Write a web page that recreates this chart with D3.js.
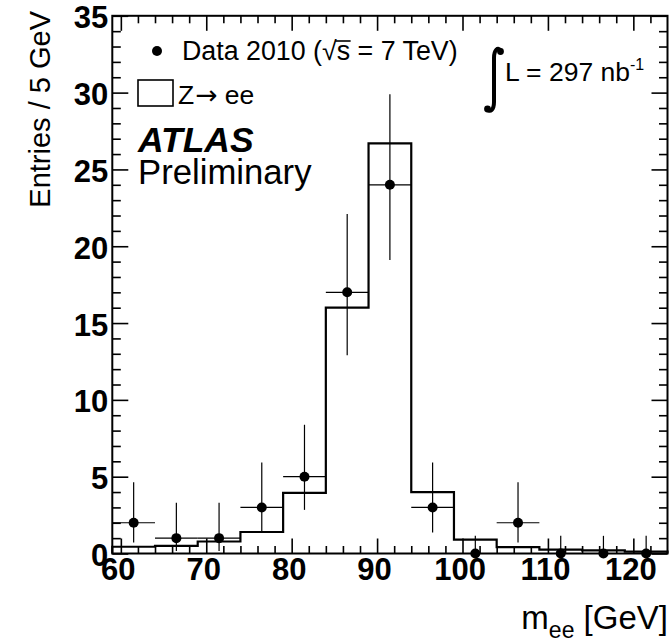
<!DOCTYPE html>
<html>
<head>
<meta charset="utf-8">
<script src="https://cdn.jsdelivr.net/npm/d3@7"></script>
<style>
  html, body { margin: 0; padding: 0; background: #fff; }
  svg { display: block; }
</style>
</head>
<body>
<svg id="chart" width="672" height="643"></svg>
<script>
// bin edges (GeV) shared by data and MC
const binEdges = [59, 64, 69, 74, 79, 84, 89, 94, 99, 104, 109, 114, 119, 124];
// Data 2010 counts per bin, with asymmetric (Poisson) errors
const dataCounts = [2, 1, 1, 3, 5, 17, 24, 3, 0, 2, 0, 0, 0];
const dataErrLow = [0.71, 0.17, 0.17, 1.37, 2.84, 12.9, 19.1, 1.37, 0, 0.71, 0, 0, 0];
const dataErrHigh = [4.64, 3.3, 3.3, 5.92, 8.38, 22.1, 29.9, 5.92, 1.15, 4.64, 1.15, 1.15, 1.15];
// Z -> ee expectation
const mcValues = [0.44, 0.5, 0.78, 1.4, 3.95, 16.0, 26.7, 4.0, 0.9, 0.42, 0.25, 0.2, 0.12];

const xMajorTicks = [60, 70, 80, 90, 100, 110, 120];
const yMajorTicks = [0, 5, 10, 15, 20, 25, 30, 35];

const FONT = "'Liberation Sans', Arial, Helvetica, sans-serif";
const LEFT = 112.3;
const RIGHT = 667.5;
const TOP = 15.8;
const BOTTOM = 553.5;

const svg = d3.select('#chart');
svg.append('rect').attr('width', 672).attr('height', 643).attr('fill', '#fff');

const x = d3.scaleLinear().domain([59, 124]).range([LEFT, RIGHT]);
const y = d3.scaleLinear().domain([0, 35]).range([BOTTOM, TOP]);

const xMinor = d3.range(60, 124, 2).filter((v) => v % 10 !== 0);
const yMinor = d3.range(0, 35, 1).filter((v) => v % 5 !== 0);

// ---- axes (ticks pointing inward, ROOT style) ----
function styleAxis(g) {
  g.select('.domain').remove();
  g.selectAll('.tick line').attr('stroke', '#000').attr('stroke-width', 1.6);
}

const bottomAxis = svg.append('g')
  .attr('transform', `translate(0,${BOTTOM})`)
  .call(d3.axisBottom(x).tickValues(xMajorTicks).tickSize(-15).tickPadding(4.5).tickFormat(d3.format('d')))
  .call(styleAxis);
bottomAxis.selectAll('.tick text')
  .attr('x', -3)
  .attr('fill', '#000')
  .attr('font-family', FONT)
  .attr('font-weight', 'bold')
  .attr('font-size', '31px');

svg.append('g')
  .attr('transform', `translate(0,${BOTTOM})`)
  .call(d3.axisBottom(x).tickValues(xMinor).tickSize(-7.5).tickFormat(''))
  .call(styleAxis);

svg.append('g')
  .attr('transform', `translate(0,${TOP})`)
  .call(d3.axisTop(x).tickValues(xMajorTicks).tickSize(-15).tickFormat(''))
  .call(styleAxis);
svg.append('g')
  .attr('transform', `translate(0,${TOP})`)
  .call(d3.axisTop(x).tickValues(xMinor).tickSize(-7.5).tickFormat(''))
  .call(styleAxis);

const leftAxis = svg.append('g')
  .attr('transform', `translate(${LEFT},0)`)
  .call(d3.axisLeft(y).tickValues(yMajorTicks).tickSize(-16).tickPadding(4).tickFormat(d3.format('d')))
  .call(styleAxis);
leftAxis.selectAll('.tick text')
  .attr('dy', '0.39em')
  .attr('fill', '#000')
  .attr('font-family', FONT)
  .attr('font-weight', 'bold')
  .attr('font-size', '31px');

svg.append('g')
  .attr('transform', `translate(${LEFT},0)`)
  .call(d3.axisLeft(y).tickValues(yMinor).tickSize(-8.5).tickFormat(''))
  .call(styleAxis);

svg.append('g')
  .attr('transform', `translate(${RIGHT},0)`)
  .call(d3.axisRight(y).tickValues(yMajorTicks).tickSize(-16).tickFormat(''))
  .call(styleAxis);
svg.append('g')
  .attr('transform', `translate(${RIGHT},0)`)
  .call(d3.axisRight(y).tickValues(yMinor).tickSize(-8.5).tickFormat(''))
  .call(styleAxis);

// ---- MC histogram (step outline) ----
const mcPoints = [[binEdges[0], 0]];
mcValues.forEach((v, i) => {
  mcPoints.push([binEdges[i], v]);
  mcPoints.push([binEdges[i + 1], v]);
});
mcPoints.push([binEdges[binEdges.length - 1], 0]);

svg.append('path')
  .attr('d', d3.line().x((d) => x(d[0])).y((d) => y(d[1]))(mcPoints))
  .attr('fill', 'none')
  .attr('stroke', '#000')
  .attr('stroke-width', 2.2)
  .attr('stroke-linejoin', 'miter');

// ---- data points with errors ----
const dataGroup = svg.append('g').attr('class', 'data');
dataCounts.forEach((n, i) => {
  const lo = binEdges[i];
  const hi = binEdges[i + 1];
  const cx = x((lo + hi) / 2);
  const cy = y(n);

  dataGroup.append('line')
    .attr('x1', x(lo)).attr('x2', x(hi))
    .attr('y1', cy).attr('y2', cy)
    .attr('stroke', '#000').attr('stroke-width', 1.2);

  dataGroup.append('line')
    .attr('x1', cx).attr('x2', cx)
    .attr('y1', y(dataErrLow[i])).attr('y2', y(dataErrHigh[i]))
    .attr('stroke', '#000').attr('stroke-width', 1.2);

  dataGroup.append('circle')
    .attr('cx', cx).attr('cy', cy).attr('r', 5)
    .attr('fill', '#000');
});

// ---- frame ----
svg.append('rect')
  .attr('x', LEFT).attr('y', TOP)
  .attr('width', RIGHT - LEFT).attr('height', BOTTOM - TOP)
  .attr('fill', 'none')
  .attr('stroke', '#000')
  .attr('stroke-width', 2);

// ---- axis titles ----
const xTitle = svg.append('text')
  .attr('x', 668).attr('y', 629)
  .attr('text-anchor', 'end')
  .attr('font-family', FONT)
  .attr('font-size', '33px');
xTitle.append('tspan').text('m');
xTitle.append('tspan').attr('font-size', '23px').attr('dy', 9).text('ee');
xTitle.append('tspan').attr('dy', -9).text(' [GeV]');

svg.append('text')
  .attr('transform', 'translate(50,11) rotate(-90)')
  .attr('text-anchor', 'end')
  .attr('font-family', FONT)
  .attr('font-size', '29px')
  .text('Entries / 5 GeV');

// ---- legend ----
svg.append('circle').attr('cx', 157).attr('cy', 51).attr('r', 5).attr('fill', '#000');

const dataLabel = svg.append('text')
  .attr('x', 182).attr('y', 60)
  .attr('font-family', FONT)
  .attr('font-size', '26.8px')
  .text('Data 2010 (\u221As = 7 TeV)');

// overline of the square root
const node = dataLabel.node();
const txt = node.textContent;
const rIdx = txt.indexOf('\u221A');
const sqrtEnd = node.getEndPositionOfChar(rIdx).x;
const sEnd = node.getEndPositionOfChar(rIdx + 1).x;
svg.append('line')
  .attr('x1', sqrtEnd - 1.5).attr('x2', sEnd + 0.5)
  .attr('y1', 41).attr('y2', 41)
  .attr('stroke', '#000').attr('stroke-width', 1.6);

svg.append('rect')
  .attr('x', 138).attr('y', 80)
  .attr('width', 35).attr('height', 26)
  .attr('fill', 'none')
  .attr('stroke', '#000')
  .attr('stroke-width', 1.6);

const zLabel = svg.append('text')
  .attr('x', 178).attr('y', 104)
  .attr('font-family', FONT)
  .attr('font-size', '26.5px');
zLabel.append('tspan').text('Z');
zLabel.append('tspan').attr('font-family', "'DejaVu Sans', sans-serif").attr('dx', 1).text('\u2192');
zLabel.append('tspan').text(' ee');

svg.append('text')
  .attr('x', 138).attr('y', 152)
  .attr('font-family', FONT)
  .attr('font-size', '35.5px')
  .attr('font-weight', 'bold')
  .attr('font-style', 'italic')
  .text('ATLAS');

svg.append('text')
  .attr('x', 138).attr('y', 184)
  .attr('font-family', FONT)
  .attr('font-size', '34.7px')
  .text('Preliminary');

// ---- luminosity ----
svg.append('path')
  .attr('d', 'M501,51 C498,46 494,50 494,58 L494,102 C494,110 490,113 487,109')
  .attr('fill', 'none')
  .attr('stroke', '#000')
  .attr('stroke-width', 4)
  .attr('stroke-linecap', 'round');
svg.append('circle').attr('cx', 500.5).attr('cy', 51.5).attr('r', 3.4).attr('fill', '#000');
svg.append('circle').attr('cx', 487.5).attr('cy', 109).attr('r', 3.4).attr('fill', '#000');

const lumi = svg.append('text')
  .attr('x', 505).attr('y', 81)
  .attr('font-family', FONT)
  .attr('font-size', '26.5px');
lumi.append('tspan').text('L = 297 nb');
lumi.append('tspan').attr('font-size', '16px').attr('dy', -11).text('-1');
</script>
</body>
</html>
